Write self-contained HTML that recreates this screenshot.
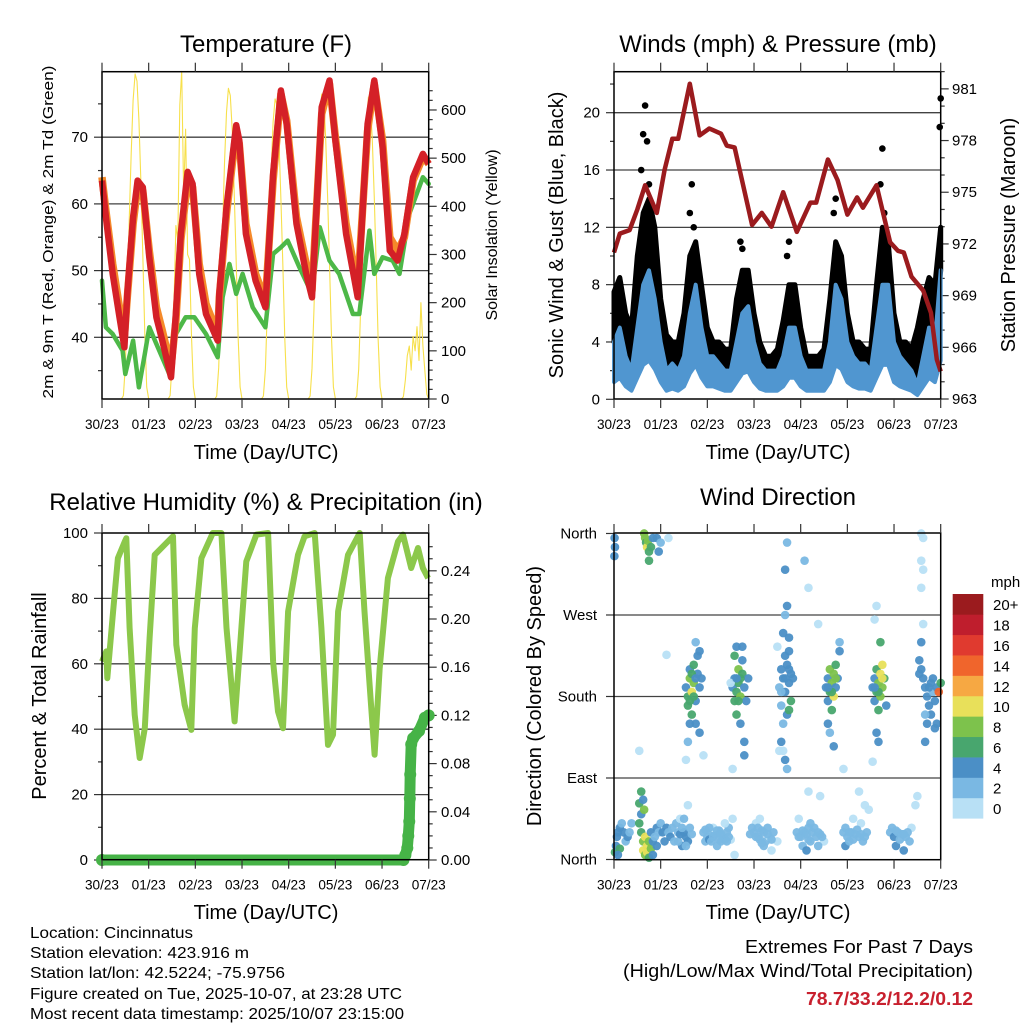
<!DOCTYPE html>
<html><head><meta charset="utf-8"><style>
html,body{margin:0;padding:0;background:#fff;}
svg{display:block;font-family:"Liberation Sans",sans-serif;}
</style></head><body>
<svg id="fig" xmlns="http://www.w3.org/2000/svg" width="1024" height="1024" viewBox="0 0 1024 1024">
<rect x="0" y="0" width="1024" height="1024" fill="#fff"/>
<g id="g1"></g>
<g id="g2"></g>
<g id="g3"></g>
<g id="g4"></g>
<text x="266" y="52" font-size="24" text-anchor="middle">Temperature (F)</text>
<text x="778" y="52" font-size="24" text-anchor="middle">Winds (mph) &amp; Pressure (mb)</text>
<text x="266" y="510" font-size="24" text-anchor="middle">Relative Humidity (%) &amp; Precipitation (in)</text>
<text x="778" y="505" font-size="24" text-anchor="middle">Wind Direction</text>
<text x="266" y="459" font-size="20" text-anchor="middle">Time (Day/UTC)</text>
<text x="778" y="459" font-size="20" text-anchor="middle">Time (Day/UTC)</text>
<text x="266" y="919" font-size="20" text-anchor="middle">Time (Day/UTC)</text>
<text x="778" y="919" font-size="20" text-anchor="middle">Time (Day/UTC)</text>
<text transform="translate(53,232) rotate(-90)" font-size="15" text-anchor="middle" textLength="333" lengthAdjust="spacingAndGlyphs">2m &amp; 9m T (Red, Orange) &amp; 2m Td (Green)</text>
<text transform="translate(497,235) rotate(-90)" font-size="16" text-anchor="middle">Solar Insolation (Yellow)</text>
<text transform="translate(563,235) rotate(-90)" font-size="20" text-anchor="middle">Sonic Wind &amp; Gust (Blue, Black)</text>
<text transform="translate(1015,235) rotate(-90)" font-size="20" text-anchor="middle">Station Pressure (Maroon)</text>
<text transform="translate(46,696) rotate(-90)" font-size="20" text-anchor="middle">Percent &amp; Total Rainfall</text>
<text transform="translate(541,696) rotate(-90)" font-size="20" text-anchor="middle">Direction (Colored By Speed)</text>
<g font-size="16">
<text x="30" y="938" textLength="163" lengthAdjust="spacingAndGlyphs">Location: Cincinnatus</text>
<text x="30" y="958" textLength="219" lengthAdjust="spacingAndGlyphs">Station elevation: 423.916 m</text>
<text x="30" y="978" textLength="255" lengthAdjust="spacingAndGlyphs">Station lat/lon: 42.5224; -75.9756</text>
<text x="30" y="999" textLength="372" lengthAdjust="spacingAndGlyphs">Figure created on Tue, 2025-10-07, at 23:28 UTC</text>
<text x="30" y="1019" textLength="374" lengthAdjust="spacingAndGlyphs">Most recent data timestamp: 2025/10/07 23:15:00</text>
</g>
<text x="973" y="953" font-size="18" text-anchor="end" textLength="228" lengthAdjust="spacingAndGlyphs">Extremes For Past 7 Days</text>
<text x="973" y="977" font-size="18" text-anchor="end" textLength="350" lengthAdjust="spacingAndGlyphs">(High/Low/Max Wind/Total Precipitation)</text>
<text x="973" y="1005" font-size="18" font-weight="bold" fill="#c8202e" text-anchor="end" textLength="167" lengthAdjust="spacingAndGlyphs">78.7/33.2/12.2/0.12</text>
</svg>
<script>
const dayLabels=["30/23","01/23","02/23","03/23","04/23","05/23","06/23","07/23"];
const tempHours=[0,2,5.5,9,11.5,13,16,18.3,21,24.3,28,31,35.5,38,40.5,44,46.6,50,53.5,59.5,60.3,64,69,70.6,74,79,84,88,92,95,100,105,108,113,117,120,125.5,131.5,136.6,140,144.3,148,152,155.5,160,165,168];
const temp2m=[63.5,58,49.5,43,38.5,46.5,58,63.5,62.5,52,43,39.5,34,43.5,55.5,64.8,63,49.5,43.5,39.5,46.5,59.5,71.8,69.5,55.5,48.5,44.5,64.5,77,72,57,49.5,46,74.5,78.5,69.5,55.5,46,72,78.5,68.5,53,51.5,55.5,64,67.5,66];
const temp9m=[64,59,51,44.5,40,46,57,62.5,62,53,44.5,41,35.5,42.5,54.5,63.5,62.5,51,45,40.5,46,58.5,71,69,57,49.5,45.5,63.5,76.5,72.5,58,51,47,73.5,78,70,57,47.5,71,78,69.5,55,53,55,63.5,67,66];
const dewHours=[0,2,5.5,10.6,12,16,19,22,24.3,28,34.6,37,43,47.5,53.5,59.5,62,65.5,69,72.3,77.5,84,88,92,95.5,101.5,108,112,117,122,129,132.3,137.5,140,144.3,149.5,153,158,165,168];
const dewPoint=[48.5,41.5,40.5,38,34.5,39.5,32.5,37.5,41.5,39,34.5,40,43,43,40.5,37,46,51,46.5,49.5,44.5,41.5,52.5,53.5,54.5,50.5,46.5,56.5,51.5,49.5,43.5,43.5,56,49.5,52,51.5,49.5,58.5,64,63];
const solarHourly=[
0,0,0,0,0,0,0,0,0,0,0,7,68,200,370,510,620,675,660,580,450,300,135,25,
0,0,0,0,0,0,0,0,0,0,0,7,70,200,360,330,610,680,420,560,300,290,130,25,
0,0,0,0,0,0,0,0,0,0,0,6,65,190,350,490,595,645,630,555,430,285,130,25,
0,0,0,0,0,0,0,0,0,0,0,6,62,185,340,475,575,623,610,535,415,275,125,25,
0,0,0,0,0,0,0,0,0,0,0,6,63,188,345,480,585,633,620,545,420,280,128,25,
0,0,0,0,0,0,0,0,0,0,0,6,62,186,342,478,580,627,612,538,417,277,126,25,
0,0,0,0,0,0,0,0,0,0,0,5,40,90,110,60,130,100,150,80,200,110,60,10,
0];
const pressHours=[0,3,8,12,16,22,26,30,33,39,44,49,55,58,62,71,76,81,87,94,101,104,110,115,120,125,128,135,142,146,149,153,159,163,166,168];
const pressure=[971.5,972.6,972.8,974.0,975.4,973.8,976.3,978.1,978.1,981.3,978.3,978.7,978.4,977.7,977.6,973.1,973.8,973.0,975.0,972.7,974.4,974.4,976.9,975.7,973.7,974.7,974.1,975.4,972.1,971.6,971.5,970.1,969.3,968.0,965.3,964.6];
const windSpeed=[4,5,3,2,5,8,9,7,4,2,2.5,2,3,6,8,5,3,3,2.5,2,2,4,6,6.5,4,2.5,2,2,2,3,5,5,3,2,2,2,2,4,8,7,4,3,2.5,2.5,2,5,8,8,4,3,2.5,2,1,3,5,4,9];
const windGust=[7.5,8.5,6,5,10,13,14,12,7,4.5,4,4,6,10,11,8,5,4,4,3.5,3.5,7,9,9,6,4,3,3,3.5,5.5,8,8,5,3,3,3,3.5,7,11,10,6,4,4,3.5,3.5,8,12,11,6,4,4,3.5,5,7,8.5,8,12];
const gustSpikes=[[14,16],[15,18.5],[16,20.5],[17,18],[18,15],[39,13],[40,15],[41,12],[65,11],[66,10.5],[89,10],[90,11],[113,13],[114,14],[137,15],[138,17.5],[139,13],[167.5,19],[168,21]];
const rhHours=[0,2.2,2.7,5.7,8.2,11.7,12.5,14.2,16.8,19.4,22,24.5,27.1,32.2,36.5,38.2,42.5,45.9,47.7,51.1,57,61.4,64,68.2,71.7,74.2,79.4,85.4,88,90.5,93.1,95.7,100.8,104.2,109.4,112.8,116.2,118.8,121.4,126.5,132.5,135,137.6,140.2,142.8,147,152.2,154.8,159,162.5,165,167.7];
const relHum=[60.7,63.8,55.6,76,92.3,97.4,98.4,71,44.4,31.2,40.3,67.9,93.3,96.4,99,65.8,47.5,39.8,70.9,92.3,100,100,71,42.4,71,91.3,99.5,100,60.7,45.4,40.3,76,93.3,99,100,71,35.2,38.3,76,93.3,100,76,53.6,32.2,58.7,86.2,97.4,99.5,89.3,95.4,89.3,86.2];
const precipHours=[0,155,156,157,157.5,158,158.3,158.5,159,160,163,166,168];
const precip=[0,0,0.004,0.01,0.02,0.032,0.051,0.071,0.096,0.101,0.107,0.118,0.12];
const wdObs=[[0.5,8,6],[1,15,5],[1.5,25,4],[2,30,4],[3,35,4],[4,40,3],[5,30,4],[6,20,3],[7,25,4],[3,12,6],[2,5,5],[8,30,2],[9,40,3],
[0.3,355,4],[0.5,345,4],[0.2,335,4],
[13,40,6],[14,30,6],[14,50,4],[15,20,8],[15,10,10],[16,25,10],[16,5,8],[17,15,10],[17,8,10],[18,20,8],[18,2,6],[19,12,8],[19,30,4],[20,20,4],[20,5,4],[21,25,2],[22,35,4],[22,15,4],[23,30,2],[24,40,2],[25,30,4],[26,20,4],[27,35,4],[28,30,2],[29,25,4],[30,35,2],[31,20,2],[32,40,2],[33,30,2],[34,45,0],[13,62,6],[14,75,6],[15,66,4],[15.5,55,8],
[15.5,360,8],[16,355,8],[16.5,350,6],[17,345,10],[17.5,352,8],[18,340,6],[18,330,6],[19,345,6],[20,355,4],[22,355,4],[23,340,4],[24,350,2],[28,355,0],[13,120,0],[27,226,0],
[46,30,2],[48,25,2],[50,30,2],[52,28,2],[54,32,2],[56,25,2],[58,30,2],[60,22,0],[47,20,2],[51,35,0],[55,20,2],[59,35,2],[53,15,2],[57,40,0],[49,22,4],[61,45,0],[62,5,0],[47,33,2],[49,35,2],[51,25,2],[53,32,2],[55,28,2],[57,22,2],[59,25,2],[50,20,2],[54,22,2],[58,20,2],
[36,30,4],[37,25,4],[38,20,4],[35,15,4],[39,35,2],[40,28,2],[36,45,2],[38,60,0],[33,20,2],[34,28,4],[35,35,2],[37,15,2],
[70,28,2],[72,30,2],[74,25,2],[76,32,2],[78,20,2],[80,25,0],[82,30,2],[73,40,0],[77,15,2],[81,10,0],[75,45,0],[79,35,2],[84,20,0],[71,35,2],[73,25,2],[75,22,2],[77,30,2],[79,28,2],[81,22,2],[76,18,2],[74,35,2],
[94,30,2],[96,25,2],[98,30,2],[100,22,2],[102,30,2],[104,25,2],[106,28,2],[108,20,0],[97,15,2],[101,40,2],[105,15,2],[99,10,4],[95,45,0],[95,25,2],[97,32,2],[99,28,2],[101,20,2],[103,35,2],[105,30,2],[107,25,2],[100,35,2],
[118,30,2],[120,25,2],[122,30,2],[124,28,2],[126,25,2],[128,20,2],[130,30,2],[127,40,0],[119,15,4],[123,45,0],[131,55,0],[119,35,2],[121,30,2],[123,22,2],[125,33,2],[127,28,2],[129,25,2],[121,20,2],
[142,30,2],[144,25,4],[146,30,2],[148,28,2],[150,25,2],[152,20,2],[145,15,4],[149,10,4],[153,35,0],[155,60,0],[156,70,0],[143,35,2],[147,22,2],[151,30,2],[145,32,2],[149,28,2],
[37,190,4],[38,180,6],[38,170,6],[39,200,8],[39,210,4],[40,185,10],[40,160,6],[41,195,8],[41,215,6],[42,175,4],[42,150,4],[43,205,4],[43,225,4],[44,190,4],[44,140,4],[45,200,4],[38,130,2],[39,150,4],[37,110,0],[46,115,0],[42,240,2],[44,230,4],[40,205,6],[41,180,6],[39,175,6],[42,200,4],
[61,190,4],[62,175,6],[62,200,4],[63,185,6],[63,160,6],[64,210,8],[64,195,6],[65,180,8],[65,150,4],[66,205,6],[66,220,4],[67,190,4],[67,130,4],[68,175,4],[60,195,0],[63,235,4],[62,225,6],[66,235,4],[69,200,4],[67,115,4],[61,100,0],[64,175,6],[65,200,6],[63,200,4],
[85,190,2],[86,170,2],[86,210,4],[87,200,4],[87,150,2],[88,185,4],[88,225,4],[89,215,4],[89,160,4],[90,195,4],[90,230,4],[91,205,4],[91,175,6],[92,200,4],[87,250,4],[88,270,2],[89,280,4],[88,320,4],[89,350,2],[86,130,4],[88,110,4],[89,100,2],[87,120,0],[90,245,4],[90,165,6],[86,185,2],[88,200,4],[90,210,4],
[109,190,4],[110,200,4],[110,175,4],[111,185,6],[111,210,8],[112,195,8],[112,165,6],[113,205,8],[113,180,10],[114,215,6],[114,190,4],[115,200,4],[116,230,4],[110,150,4],[111,140,2],[113,125,4],[116,240,2],[118,100,0],[112,185,6],[114,200,8],[110,190,4],
[133,190,4],[134,200,4],[134,175,4],[135,185,6],[135,210,6],[136,195,8],[136,165,6],[137,205,10],[137,180,8],[138,215,10],[138,190,8],[139,200,6],[140,170,4],[137,240,6],[135,140,4],[136,130,4],[133,108,0],[134,265,0],[135,280,0],[136,185,6],[138,200,10],[134,190,4],
[157,220,4],[158,210,4],[158,240,4],[159,200,4],[160,190,4],[161,180,4],[162,170,4],[163,160,4],[163,195,4],[164,185,2],[165,175,4],[166,190,4],[166,150,4],[167,185,14],[168,195,6],[160,160,2],[161,150,4],[159,260,0],[158,300,0],[159,320,0],[158,330,0],[159,355,0],[158,360,0],[160,130,4],[165,145,4],[157,205,4],[162,190,4],[164,200,4],
[98,330,2],[100,300,0],[105,260,0],[84,235,0],[85,120,0],[100,75,0],[106,70,0],[129,60,0],[126,75,0]];
const speedColors=["#b8e0f5","#7ab8e3","#4b8fc6","#48a66e","#7dc24c","#e8e05a","#f6a843","#f0652c","#e03a2f","#bf1e2d","#9b1b1e"];
const speedLabels=["0","2","4","6","8","10","12","14","16","18","20+"];

const NS="http://www.w3.org/2000/svg";
function mk(tag,attrs,parent){const e=document.createElementNS(NS,tag);for(const k in attrs)e.setAttribute(k,attrs[k]);parent.appendChild(e);return e;}
const PW=326.7, HOURS=168;
const xL=h=>102+h*PW/HOURS, xR=h=>614+h*PW/HOURS;
const yT=v=>337.3-(v-40)*6.67, yS=v=>399-v*0.4817;
const yW=v=>399.3-v*14.33, yP=v=>399-(v-963)*17.23;
const yR=v=>860-v*3.27, yPr=v=>860-v*1205;
const yD=v=>859.5-v*0.9056;

function frame(g,x0,y0,y1){
  dayLabels.forEach((lab,i)=>{
    const x=x0+i*PW/7;
    const t1=mk('line',{x1:x,x2:x,y1:y0-9,y2:y0,stroke:'#333','stroke-width':1.2},g);
    
    
    const t2=mk('line',{x1:x,x2:x,y1:y1,y2:y1+9,stroke:'#333','stroke-width':1.2},g);
    
    
    const tx=mk('text',{x:x,y:y1+30,'font-size':14,'text-anchor':'middle',textLength:34,lengthAdjust:'spacingAndGlyphs'},g);
    tx.textContent=lab;
    
    
  });
}
function box(g,x0,y0,y1){
  const r=mk('rect',{x:x0,y:y0,width:PW,height:y1-y0,fill:'none',stroke:'#000','stroke-width':1.5},g);
  
  
}
function hgrid(g,x0,y){
  const l=mk('line',{x1:x0,x2:x0+PW,y1:y,y2:y,stroke:'#222','stroke-width':1.3,opacity:0.85},g);
  
  
}
function ytick(g,x,y,len,label,anchor,lx,name){
  const t=mk('line',{x1:x,x2:x+len,y1:y,y2:y,stroke:'#333','stroke-width':1.2},g);
  
  
  if(label!==null){
    const tx=mk('text',{x:lx,y:y+5,'font-size':15,'text-anchor':anchor},g);
    tx.textContent=label;
    
    
  }
}
function pts(hs,vs,fx,fy){return hs.map((h,i)=>fx(h).toFixed(1)+','+fy(vs[i]).toFixed(1)).join(' ');}

// ---------- Panel 1: Temperature ----------
const g1=document.getElementById('g1');
const T0=71.7,T1=399;
[40,50,60,70].forEach(v=>hgrid(g1,102,yT(v)));
for(let v=35;v<=75;v+=5){ytick(g1,v%10===0?94:98,yT(v),v%10===0?8:4,v%10===0?String(v):null,'end',88,'temp-y');}
for(let v=0;v<=640;v+=20){ytick(g1,428.7,yS(v),v%100===0?8:4,v%100===0?String(v):null,'start',441,'solar-y');}
const solarHours=solarHourly.map((v,i)=>i);
const sol=mk('polyline',{points:pts(solarHours,solarHourly,xL,yS),fill:'none',stroke:'#f7e04b','stroke-width':1.1,'stroke-linejoin':'round'},g1);


const dew=mk('polyline',{points:pts(dewHours,dewPoint,xL,yT),fill:'none',stroke:'#4db848','stroke-width':4.5,'stroke-linejoin':'round','stroke-linecap':'round'},g1);


const t9=mk('polyline',{points:pts(tempHours,temp9m,xL,yT),fill:'none',stroke:'#f58a2a','stroke-width':7.5,'stroke-linejoin':'round'},g1);


const t2=mk('polyline',{points:pts(tempHours,temp2m,xL,yT),fill:'none',stroke:'#d42027','stroke-width':6.5,'stroke-linejoin':'round'},g1);


box(g1,102,T0,T1);frame(g1,102,T0,T1);

// ---------- Panel 2: Winds ----------
const g2=document.getElementById('g2');
[4,8,12,16,20].forEach(v=>hgrid(g2,614,yW(v)));
for(let v=0;v<=22;v+=2){ytick(g2,v%4===0?606:610,yW(v),v%4===0?8:4,v%4===0?String(v):null,'end',600,'wind-y');}
for(let v=963;v<=982;v+=1){ytick(g2,940.7,yP(v),v%3===0?8:4,v%3===0?String(v):null,'start',952,'pressure-y');}
const windHours=windSpeed.map((v,i)=>i*3);
const gustLow=windSpeed.map((v,i)=>xR(windHours[i]).toFixed(1)+','+yW(v).toFixed(1)).reverse();
const gband=mk('polygon',{points:pts(windHours,windGust,xR,yW)+' '+gustLow.join(' '),fill:'#000',stroke:'#000','stroke-width':5,'stroke-linejoin':'round'},g2);


gustSpikes.forEach(s=>{
  const c=mk('circle',{cx:xR(s[0]),cy:yW(s[1]),r:3.3,fill:'#000'},g2);
  
  
});
const lowPts=windSpeed.map((v,i)=>xR(windHours[i]).toFixed(1)+','+yW(v*0.3).toFixed(1)).reverse();
const band=mk('polygon',{points:pts(windHours,windSpeed,xR,yW)+' '+lowPts.join(' '),fill:'#5096d0',stroke:'#5096d0','stroke-width':4,'stroke-linejoin':'round'},g2);


const pl=mk('polyline',{points:pts(pressHours,pressure,xR,yP),fill:'none',stroke:'#9b1b1e','stroke-width':4.5,'stroke-linejoin':'round'},g2);


box(g2,614,T0,T1);frame(g2,614,T0,T1);

// ---------- Panel 3: RH & precip ----------
const g3=document.getElementById('g3');
const B0=533,B1=859.7;
[20,40,60,80].forEach(v=>hgrid(g3,102,yR(v)));
for(let v=0;v<=100;v+=10){ytick(g3,v%20===0?94:98,yR(v),v%20===0?8:4,v%20===0?String(v):null,'end',88,'rh-y');}
for(let v=0;v<=26;v+=1){const val=v/100;ytick(g3,428.7,yPr(val),v%4===0?8:4,v%4===0?val.toFixed(2):null,'start',441,'precip-y');}
const rh=mk('polyline',{points:pts(rhHours,relHum,xL,yR),fill:'none',stroke:'#8cc84b','stroke-width':6,'stroke-linejoin':'round'},g3);


const pr=mk('polyline',{points:pts(precipHours,precip,xL,yPr),fill:'none',stroke:'#46b347','stroke-width':11,'stroke-linejoin':'round','stroke-linecap':'round'},g3);


precip.forEach((v,i)=>{
  const c=mk('circle',{cx:xL(precipHours[i]),cy:yPr(v),r:6,fill:'#46b347'},g3);
  
  
});
box(g3,102,B0,B1);frame(g3,102,B0,B1);

// ---------- Panel 4: Wind direction ----------
const g4=document.getElementById('g4');
const dirLabels=["North","East","South","West","North"];
[90,180,270].forEach(v=>hgrid(g4,614,yD(v)));
dirLabels.forEach((lab,i)=>ytick(g4,606,yD(i*90),8,lab,'end',597,'direction-y'));
wdObs.forEach(o=>{
  const bin=Math.min(10,Math.floor(o[2]/2));
  const c=mk('circle',{cx:xR(o[0]),cy:yD(o[1]),r:4.3,fill:speedColors[bin],opacity:0.95},g4);
  
  
});
box(g4,614,B0,B1);frame(g4,614,B0,B1);
const cb=mk('g',{},g4);


const cbTop=594,cbH=224.3/11;
speedColors.forEach((col,i)=>{
  const y=cbTop+(10-i)*cbH;
  const r=mk('rect',{x:952.7,y:y,width:30.6,height:cbH+0.3,fill:col},cb);
  
  
  const t=mk('text',{x:993,y:y+cbH/2+6,'font-size':15},cb);
  t.textContent=speedLabels[i];
  
  
});
const mph=mk('text',{x:991,y:587,'font-size':15},cb);
mph.textContent='mph';


</script>
</body></html>
